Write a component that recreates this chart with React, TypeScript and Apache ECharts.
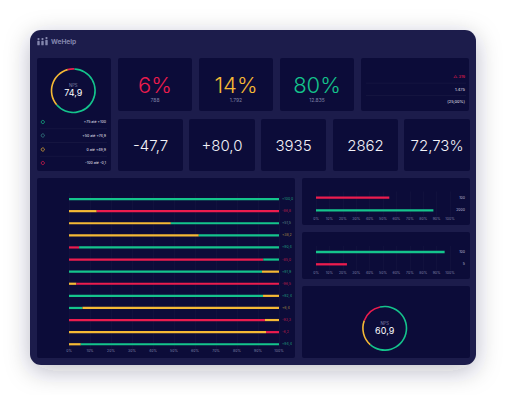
import React, { useEffect, useRef } from 'react';
import * as echarts from 'echarts';

// ---------- data ----------
const kpiPercents = ['6%', '14%', '80%'];
const kpiPercentKinds = ['D', 'Y', 'P'];
const kpiCounts = ['788', '1.792', '12.835'];
const kpiRow2 = ['-47,7', '+80,0', '3935', '2862', '72,73%'];
const sideValues = ['△ 319', '1.475', '(25,00%)'];
const sideKinds = ['D', 'W', 'W'];

const npsMainLabel = '74,9';
const npsMainRing = [5, 63, 32]; // detractors, promoters, passives (clockwise from start)
const npsSecondLabel = '60,9';
const npsSecondRing = [16, 65, 19];
const ringKinds = ['D', 'P', 'Y'];

const legendRanges = ['+75 até +100', '+50 até +74,9', '0 até +49,9', '-100 até -0,1'];
const legendKinds = ['P', 'T', 'Y', 'D'];

const rowNames = ['Q1', 'Q2', 'Q3', 'Q4', 'Q5', 'Q6', 'Q7', 'Q8', 'Q9', 'Q10', 'Q11', 'Q12', 'Q13'];
const firstPct = [100, 13.2, 48.5, 61.8, 4.8, 92.5, 91.9, 3.5, 92.4, 6.4, 93.3, 93.8, 5.6];
const firstKind = ['P', 'Y', 'Y', 'Y', 'D', 'D', 'P', 'Y', 'P', 'P', 'D', 'Y', 'Y'];
const secondPct = [0, 86.8, 51.5, 38.2, 95.2, 7.5, 8.1, 96.5, 7.6, 93.6, 6.7, 6.2, 94.4];
const secondKind = ['P', 'D', 'P', 'P', 'P', 'P', 'Y', 'D', 'Y', 'Y', 'Y', 'D', 'P'];
const rowScores = ['+100,0', '-86,8', '+51,5', '+38,2', '+90,4', '-85,0', '+91,9', '-96,5', '+92,4', '+6,4', '-93,3', '-6,2', '+94,4'];
const rowScoreKinds = ['P', 'D', 'T', 'Y', 'P', 'D', 'P', 'D', 'P', 'Y', 'D', 'D', 'P'];

const topBars = [54.7, 87.6];
const topKinds = ['D', 'P'];
const topLabels = ['100', '2000'];
const midBars = [96, 23.1];
const midKinds = ['P', 'D'];
const midLabels = ['100', '5'];

const pctTicks = [0, 10, 20, 30, 40, 50, 60, 70, 80, 90, 100];

// ---------- styles ----------
const C: Record<string, string> = {
  P: '#14c48c',
  Y: '#f5b935',
  D: '#ec1c4e',
  T: '#3b8f8c',
  W: '#e6e6f2',
};
const FRAME = '#1e1f4c';
const PANEL = '#0c0c39';
const GRAY = '#7e80a6';
const FONT = 'Inter, "Open Sans", sans-serif';

function panel(x: number, y: number, w: number, h: number) {
  return { type: 'rect', z: -5, shape: { x, y, width: w, height: h, r: 2 }, style: { fill: PANEL } };
}
function txt(x: number, y: number, text: string, fontSize: number, fill: string, extra: any = {}) {
  return {
    type: 'text', z: 20, x, y,
    style: { text, fontSize, fill, fontFamily: FONT, align: 'center', verticalAlign: 'middle', ...extra },
  };
}
function hline(x1: number, x2: number, y: number) {
  return { type: 'line', z: -4, shape: { x1, y1: y, x2, y2: y }, style: { stroke: 'rgba(255,255,255,0.07)', lineWidth: 0.6 } };
}

export default function App() {
  const ref = useRef<HTMLDivElement>(null);
  useEffect(() => {
    if (!ref.current) return;
    const chart = echarts.init(ref.current, undefined, { renderer: 'svg' });

    const graphics: any[] = [];
    // frame
    graphics.push({
      type: 'rect', z: -10,
      shape: { x: 30, y: 30, width: 446, height: 335, r: 11 },
      style: { fill: FRAME, shadowBlur: 24, shadowColor: 'rgba(20,20,60,0.28)', shadowOffsetY: 6 },
    });
    // logo
    [38.5, 42.5, 46.5].forEach((cx, i) => {
      graphics.push({ type: 'circle', z: 5, shape: { cx, cy: 39 + (i === 2 ? -1 : 0), r: 1.1 }, style: { fill: '#8486ad' } });
      graphics.push({ type: 'rect', z: 5, shape: { x: cx - 1.2, y: 40.8 + (i === 2 ? -1 : 0), width: 2.4, height: 4.5 - (i === 2 ? -1 : 0), r: 0.6 }, style: { fill: '#8486ad' } });
    });
    graphics.push(txt(51, 42, 'WeHelp', 6.6, '#8486ad', { align: 'left', fontWeight: 'bold' }));

    // panels
    graphics.push(panel(37, 58, 74, 113));
    [[118, 192], [199, 273], [280, 354]].forEach(([a, b]) => graphics.push(panel(a, 58, b - a, 53)));
    graphics.push(panel(361, 58, 108, 53));
    const row2 = [[118, 183], [189, 255], [261, 326], [333, 398], [404, 470]];
    row2.forEach(([a, b]) => graphics.push(panel(a, 119, b - a, 52)));
    graphics.push(panel(37, 178, 258, 180));
    graphics.push(panel(302, 178, 168, 47));
    graphics.push(panel(302, 232, 168, 47));
    graphics.push(panel(302, 286, 168, 72));

    // NPS ring texts
    graphics.push(txt(73.3, 85, 'NPS', 4.2, GRAY));
    graphics.push(txt(73.3, 92.8, npsMainLabel, 9, '#ffffff'));
    graphics.push(txt(384.7, 323, 'NPS', 4.2, GRAY));
    graphics.push(txt(384.7, 330.8, npsSecondLabel, 9, '#ffffff'));

    // legend rows
    const legY = [122, 135.5, 149.5, 163];
    legendRanges.forEach((r, i) => {
      graphics.push({ type: 'circle', z: 5, shape: { cx: 42.8, cy: legY[i], r: 1.6 }, style: { fill: 'none', stroke: C[legendKinds[i]], lineWidth: 0.7 } });
      graphics.push(txt(106, legY[i], r, 3.6, '#e8e8f4', { align: 'right' }));
      if (i < 3) graphics.push(hline(40, 107, (legY[i] + legY[i + 1]) / 2));
    });

    // KPI percents
    kpiPercents.forEach((p, i) => {
      const [a, b] = [[118, 192], [199, 273], [280, 354]][i];
      const cx = (a + b) / 2;
      graphics.push(txt(cx, 85, p, 22, C[kpiPercentKinds[i]], { fontWeight: 300 }));
      graphics.push(txt(cx, 100.3, kpiCounts[i], 5, GRAY));
    });

    // side panel
    const sideY = [76.7, 89.3, 101.7];
    sideValues.forEach((v, i) => {
      graphics.push(txt(465, sideY[i], v, 4, C[sideKinds[i]], { align: 'right' }));
    });
    graphics.push(hline(366, 466, 83.2));
    graphics.push(hline(366, 466, 95.6));

    // row 2 numbers
    kpiRow2.forEach((v, i) => {
      const [a, b] = row2[i];
      graphics.push(txt((a + b) / 2, 145, v, 15, '#f2f2f8', { fontWeight: 300 }));
    });

    const pctAxis = (gridIndex: number, margin: number) => ({
      type: 'value', gridIndex, min: 0, max: 100, interval: 10,
      axisLine: { show: false }, axisTick: { show: false },
      axisLabel: { formatter: '{value}%', fontSize: 3.5, color: GRAY, margin, fontFamily: FONT },
      splitLine: { show: true, lineStyle: { color: 'rgba(255,255,255,0.045)', width: 0.6 } },
    });
    const catAxis = (gridIndex: number, data: string[]) => ({
      type: 'category', gridIndex, data, inverse: true,
      axisLine: { show: false }, axisTick: { show: false }, axisLabel: { show: false },
    });
    const rightAxis = (gridIndex: number, data: string[], kinds: string[], margin: number, align: string) => ({
      type: 'category', gridIndex, data, inverse: true, position: 'right',
      axisLine: { show: false }, axisTick: { show: false },
      axisLabel: {
        margin, align, fontSize: 3.5, fontFamily: FONT,
        formatter: (_v: string, idx: number) => `{${kinds[idx]}|${data[idx]}}`,
        rich: {
          P: { color: '#1f9f7c', fontSize: 3.5 },
          D: { color: '#b81d4a', fontSize: 3.5 },
          Y: { color: '#a58a44', fontSize: 3.5 },
          T: { color: '#5d8f8e', fontSize: 3.5 },
          W: { color: '#b8b9d2', fontSize: 3.5 },
        },
      },
    });

    const option: any = {
      animation: false,
      backgroundColor: '#ffffff',
      graphic: { elements: graphics },
      grid: [
        { left: 69, width: 210, top: 193, height: 157.3 },
        { left: 316, width: 134, top: 191.4, height: 25.2 },
        { left: 316, width: 134, top: 245.85, height: 24.6 },
      ],
      xAxis: [pctAxis(0, -1), pctAxis(1, 0), pctAxis(2, 0.4)].map((a) => ({ ...a, axisLabel: { ...a.axisLabel, customValues: pctTicks } })),
      yAxis: [
        catAxis(0, rowNames),
        rightAxis(0, rowScores, rowScoreKinds, 3, 'left'),
        catAxis(1, topLabels),
        rightAxis(1, topLabels, ['W', 'W'], 15, 'right'),
        catAxis(2, midLabels),
        rightAxis(2, midLabels, ['W', 'W'], 15, 'right'),
      ],
      series: [
        {
          type: 'bar', xAxisIndex: 0, yAxisIndex: 0, stack: 'rows', barWidth: 2.2,
          data: firstPct.map((v, i) => ({ value: v, itemStyle: { color: C[firstKind[i]] } })),
        },
        {
          type: 'bar', xAxisIndex: 0, yAxisIndex: 0, stack: 'rows', barWidth: 2.2,
          data: secondPct.map((v, i) => ({ value: v, itemStyle: { color: C[secondKind[i]] } })),
        },
        {
          type: 'bar', xAxisIndex: 1, yAxisIndex: 2, barWidth: 2.3,
          data: topBars.map((v, i) => ({ value: v, itemStyle: { color: C[topKinds[i]] } })),
        },
        {
          type: 'bar', xAxisIndex: 2, yAxisIndex: 4, barWidth: 2.3,
          data: midBars.map((v, i) => ({ value: v, itemStyle: { color: C[midKinds[i]] } })),
        },
        {
          type: 'pie', center: [73.3, 90.7], radius: [21, 22.6], startAngle: 105, clockwise: true,
          label: { show: false }, labelLine: { show: false }, silent: true,
          data: npsMainRing.map((v, i) => ({ value: v, itemStyle: { color: C[ringKinds[i]] } })),
        },
        {
          type: 'pie', center: [384.7, 328.3], radius: [21, 22.6], startAngle: 160, clockwise: true,
          label: { show: false }, labelLine: { show: false }, silent: true,
          data: npsSecondRing.map((v, i) => ({ value: v, itemStyle: { color: C[ringKinds[i]] } })),
        },
      ],
    };
    chart.setOption(option);
    return () => chart.dispose();
  }, []);
  return <div ref={ref} style={{ position: 'fixed', left: 0, top: 0, width: 506, height: 395 }} />;
}
